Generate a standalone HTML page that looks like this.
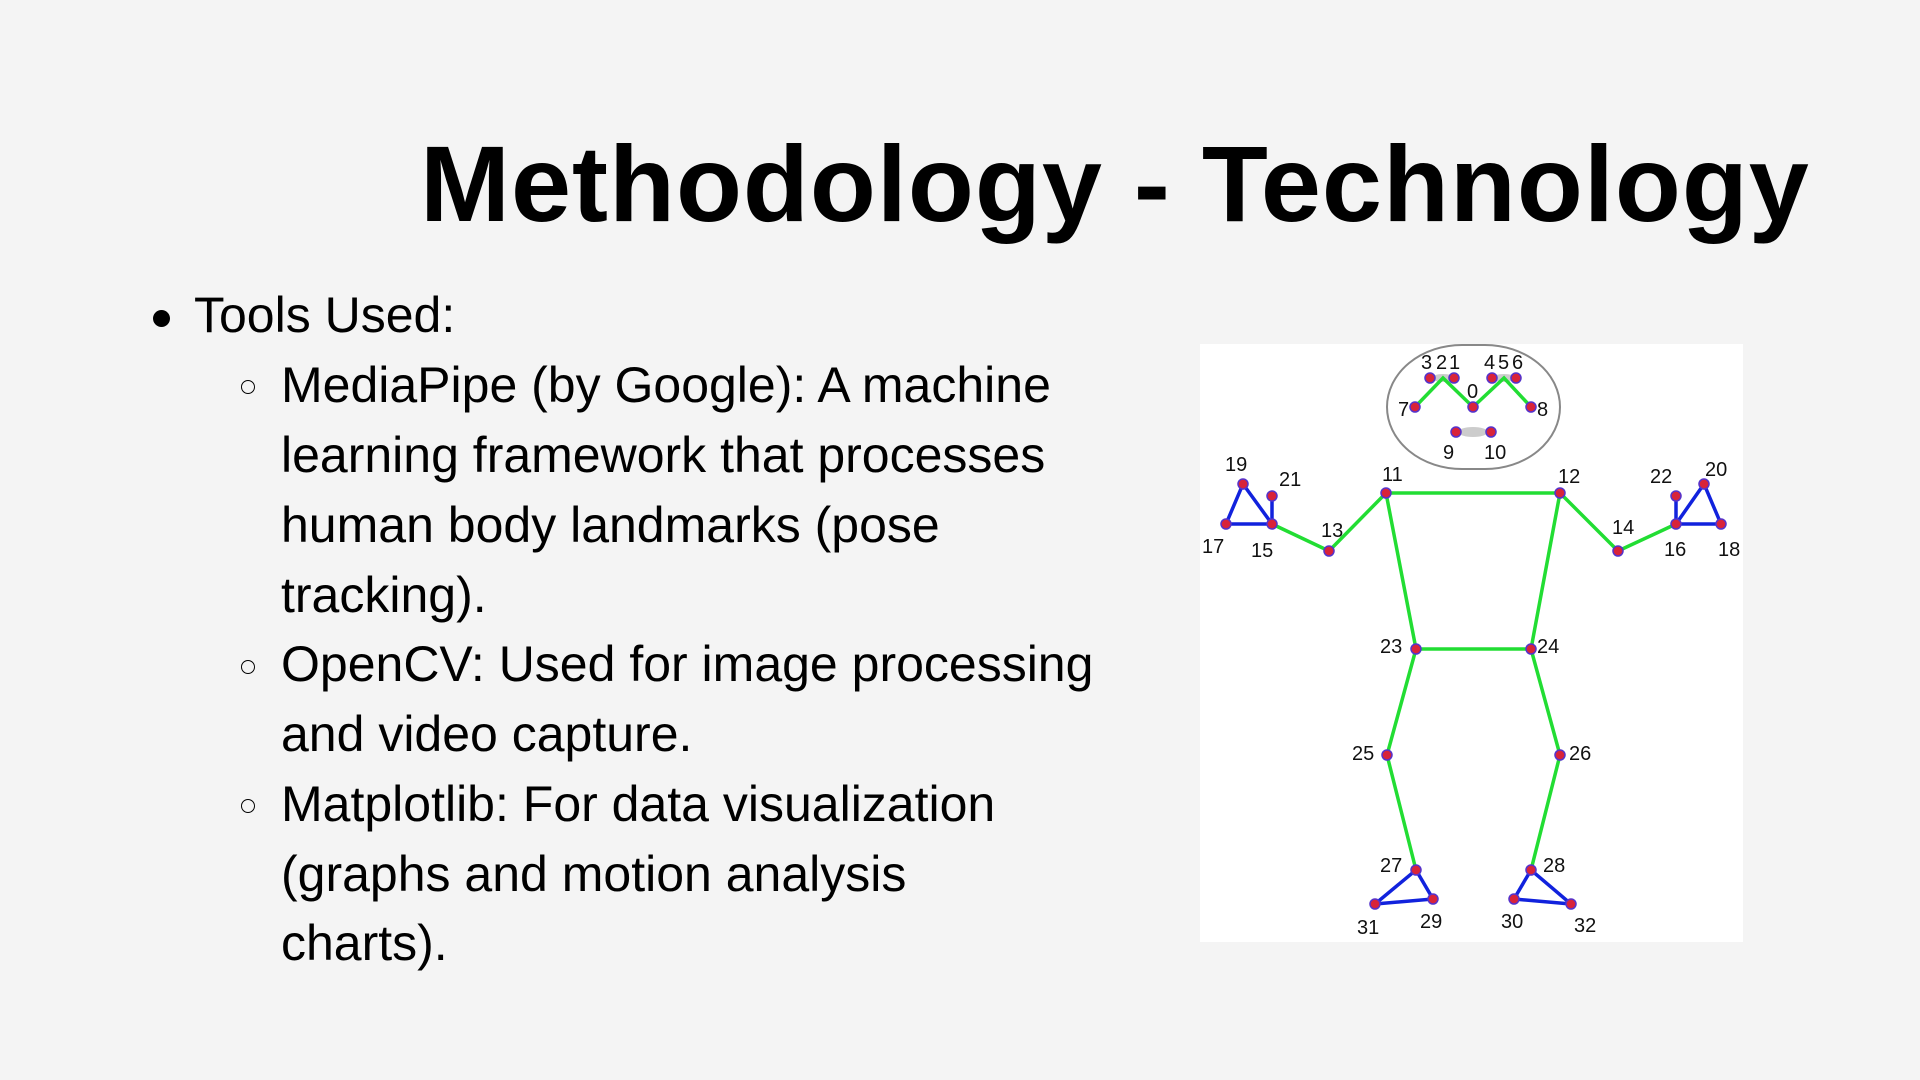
<!DOCTYPE html>
<html><head><meta charset="utf-8"><style>
html,body{margin:0;padding:0}
body{width:1920px;height:1080px;background:#f4f4f4;position:relative;overflow:hidden;font-family:"Liberation Sans",sans-serif;color:#000}
.t{position:absolute;white-space:nowrap;font-size:50px;line-height:1}
.title{position:absolute;left:420px;top:121px;font-size:108px;font-weight:bold;white-space:nowrap;letter-spacing:1px}
.dot{position:absolute;width:17px;height:17px;border-radius:50%;background:#000}
.circ{position:absolute;width:14px;height:14px;border-radius:50%;border:1.5px solid #000;box-sizing:border-box}
</style></head><body>
<div class="title">Methodology - Technology</div>
<div class="dot" style="left:153px;top:310px"></div>
<div class="t" style="left:194px;top:290px">Tools Used:</div>
<div class="circ" style="left:241px;top:380px"></div>
<div class="circ" style="left:241px;top:660px"></div>
<div class="circ" style="left:241px;top:799px"></div>
<div class="t" style="left:281px;top:360px">MediaPipe (by Google): A machine</div>
<div class="t" style="left:281px;top:430px">learning framework that processes</div>
<div class="t" style="left:281px;top:500px">human body landmarks (pose</div>
<div class="t" style="left:281px;top:570px">tracking).</div>
<div class="t" style="left:281px;top:639px">OpenCV: Used for image processing</div>
<div class="t" style="left:281px;top:709px">and video capture.</div>
<div class="t" style="left:281px;top:779px">Matplotlib: For data visualization</div>
<div class="t" style="left:281px;top:849px">(graphs and motion analysis</div>
<div class="t" style="left:281px;top:918px">charts).</div>
<svg style="position:absolute;left:0;top:0" width="1920" height="1080">
<rect x="1200" y="344" width="543" height="598" fill="#fff"/>
<rect x="1387" y="345" width="173" height="124" rx="75" ry="62" fill="#fff" stroke="#888" stroke-width="2"/>
<ellipse cx="1443" cy="378" rx="11" ry="4" fill="#ccc"/><ellipse cx="1504" cy="378" rx="11" ry="4" fill="#ccc"/>
<ellipse cx="1473" cy="432" rx="15" ry="5" fill="#ccc"/>
<g stroke="#22dd33" stroke-width="3.5" fill="none">
<polyline points="1415,407 1443,378 1473,407 1504,378 1531,407"/>
<polyline points="1272,524 1329,551 1386,493 1560,493 1618,551 1676,524"/>
<polyline points="1386,493 1416,649 1531,649 1560,493"/>
<polyline points="1416,649 1387,755 1416,870"/>
<polyline points="1531,649 1560,755 1531,870"/>
</g>
<g stroke="#1122dd" stroke-width="3.5" fill="none">
<polygon points="1226,524 1272,524 1243,484"/><line x1="1272" y1="524" x2="1272" y2="496"/>
<polygon points="1676,524 1721,524 1704,484"/><line x1="1676" y1="524" x2="1676" y2="496"/>
<polygon points="1416,870 1433,899 1375,904"/>
<polygon points="1531,870 1514,899 1571,904"/>
</g>
<g fill="#d8233a" stroke="#5533cc" stroke-width="1.5">
<circle cx="1415" cy="407" r="5"/><circle cx="1473" cy="407" r="5"/><circle cx="1531" cy="407" r="5"/>
<circle cx="1430" cy="378" r="5"/><circle cx="1454" cy="378" r="5"/><circle cx="1492" cy="378" r="5"/><circle cx="1516" cy="378" r="5"/>
<circle cx="1456" cy="432" r="5"/><circle cx="1491" cy="432" r="5"/>
<circle cx="1386" cy="493" r="5"/><circle cx="1560" cy="493" r="5"/><circle cx="1329" cy="551" r="5"/><circle cx="1618" cy="551" r="5"/>
<circle cx="1272" cy="524" r="5"/><circle cx="1226" cy="524" r="5"/><circle cx="1243" cy="484" r="5"/><circle cx="1272" cy="496" r="5"/>
<circle cx="1676" cy="524" r="5"/><circle cx="1721" cy="524" r="5"/><circle cx="1704" cy="484" r="5"/><circle cx="1676" cy="496" r="5"/>
<circle cx="1416" cy="649" r="5"/><circle cx="1531" cy="649" r="5"/><circle cx="1387" cy="755" r="5"/><circle cx="1560" cy="755" r="5"/>
<circle cx="1416" cy="870" r="5"/><circle cx="1531" cy="870" r="5"/><circle cx="1375" cy="904" r="5"/><circle cx="1433" cy="899" r="5"/><circle cx="1514" cy="899" r="5"/><circle cx="1571" cy="904" r="5"/>
</g>
<g font-family="Liberation Sans, sans-serif" font-size="20" fill="#111">
<text x="1421" y="369">3</text><text x="1436" y="369">2</text><text x="1449" y="369">1</text>
<text x="1484" y="369">4</text><text x="1498" y="369">5</text><text x="1512" y="369">6</text>
<text x="1467" y="398">0</text><text x="1398" y="416">7</text><text x="1537" y="416">8</text>
<text x="1443" y="459">9</text><text x="1484" y="459">10</text>
<text x="1382" y="481">11</text><text x="1558" y="483">12</text><text x="1321" y="537">13</text><text x="1612" y="534">14</text>
<text x="1225" y="471">19</text><text x="1279" y="486">21</text><text x="1202" y="553">17</text><text x="1251" y="557">15</text>
<text x="1650" y="483">22</text><text x="1705" y="476">20</text><text x="1664" y="556">16</text><text x="1718" y="556">18</text>
<text x="1380" y="653">23</text><text x="1537" y="653">24</text><text x="1352" y="760">25</text><text x="1569" y="760">26</text>
<text x="1380" y="872">27</text><text x="1543" y="872">28</text><text x="1357" y="934">31</text><text x="1420" y="928">29</text>
<text x="1501" y="928">30</text><text x="1574" y="932">32</text>
</g>
</svg>
</body></html>
